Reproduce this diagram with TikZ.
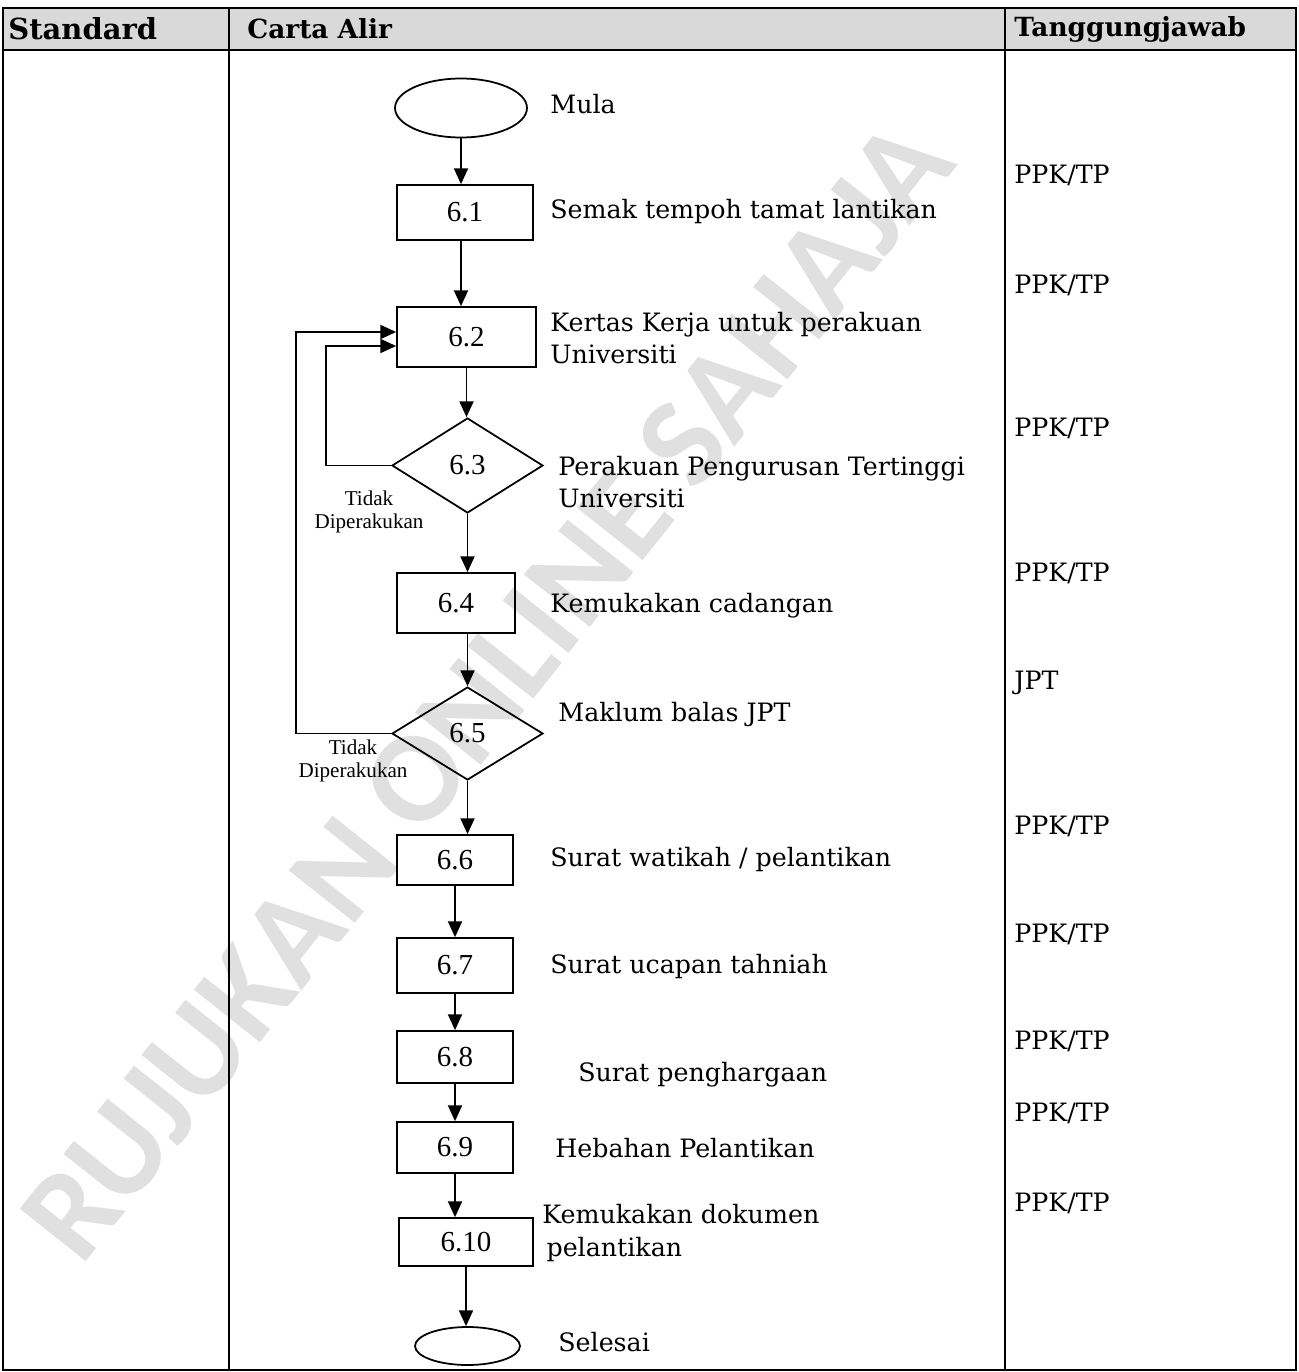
\documentclass[tikz,border=0pt]{standalone}
\usepackage{fontspec}
\setmainfont{DejaVu Serif}
\newfontfamily\numfont{Liberation Serif}
\newfontfamily\markfont{Carlito}
\usetikzlibrary{positioning, arrows.meta, shapes.geometric}

\begin{document}
\begin{tikzpicture}[x=0.02cm, y=-0.02cm, font=\fontsize{14.4}{18.5}\selectfont,
    every node/.style={align=left},
    box/.style={rectangle, draw, line width=1pt, inner sep=0pt, minimum width=2.32cm, font=\numfont\fontsize{16.5}{18}\selectfont},
    dec/.style={diamond, draw, line width=1pt, inner sep=0pt, minimum width=3.02cm, font=\numfont\fontsize{16.5}{18}\selectfont},
    term/.style={ellipse, draw, line width=1pt},
    txt/.style={anchor=west, inner sep=0pt},
    note/.style={align=center, inner sep=0pt, font=\numfont\fontsize{12}{13}\selectfont},
    resp/.style={anchor=west, inner sep=0pt},
    head/.style={anchor=west, inner sep=0pt, font=\bfseries\fontsize{15}{17}\selectfont},
    arrow/.style={-{Triangle[length=9pt, width=8pt]}, line width=1pt},
]
\useasboundingbox (0,0) rectangle (1298,1372);

% watermark
\node[text=black!12, rotate=51.5, font=\markfont\bfseries\fontsize{74}{74}\selectfont] (wm) at (487,690) {RUJUKAN ONLINE SAHAJA};

% table
\fill[black!15] (3,8) rectangle (1296,50);
\draw[line width=1.1pt] (3,8) rectangle (1296,1370);
\draw[line width=1.1pt] (3,50) -- (1296,50);
\draw[line width=1.1pt] (229,8) -- (229,1370);
\draw[line width=1.1pt] (1005,8) -- (1005,1370);

\node[head, font=\bfseries\fontsize{16.5}{17}\selectfont] (h1) at (8,29) {Standard};
\node[head] (h2) at (247,29) {Carta Alir};
\node[head] (h3) at (1014,29) {Tanggungjawab};

% flow
\node[term, minimum width=2.64cm, minimum height=1.18cm] (mula) at (461,108) {};
\node[txt] (tmula) at (550,104) {Mula};

\node[box, minimum width=2.72cm, minimum height=1.1cm] (s61) at (465,212.5) {6.1};
\node[txt] (t61) at (550,212) {Semak tempoh tamat lantikan};

\node[box, minimum width=2.78cm, minimum height=1.2cm] (s62) at (466.5,337) {6.2};
\node[txt] (t62) at (550,338) {Kertas Kerja untuk perakuan\\Universiti};

\node[dec, minimum height=1.9cm] (d63) at (467.5,465.5) {6.3};
\node[txt] (t63) at (558,482) {Perakuan Pengurusan Tertinggi\\Universiti};
\node[note] (n63) at (369,512) {Tidak\\Diperakukan};

\node[box, minimum width=2.36cm, minimum height=1.2cm] (s64) at (456,603) {6.4};
\node[txt] (t64) at (550,606) {Kemukakan cadangan};

\node[dec, minimum height=1.86cm] (d65) at (467.5,733.5) {6.5};
\node[txt] (t65) at (558,715) {Maklum balas JPT};
\node[note] (n65) at (353,761) {Tidak\\Diperakukan};

\node[box, minimum height=1.0cm] (s66) at (455,860) {6.6};
\node[txt] (t66) at (550,860) {Surat watikah / pelantikan};

\node[box, minimum height=1.1cm] (s67) at (455,965.5) {6.7};
\node[txt] (t67) at (550,967) {Surat ucapan tahniah};

\node[box, minimum height=1.04cm] (s68) at (455,1057) {6.8};
\node[txt] (t68) at (578,1075) {Surat penghargaan};

\node[box, minimum height=1.02cm] (s69) at (455,1147.5) {6.9};
\node[txt] (t69) at (555,1148) {Hebahan Pelantikan};

\node[box, minimum width=2.68cm, minimum height=0.96cm] (s610) at (466,1242) {6.10};
\node[txt] (t610) at (542,1233) {Kemukakan dokumen\\\,pelantikan};

\node[term, minimum width=2.1cm, minimum height=0.76cm] (selesai) at (467.5,1346) {};
\node[txt] (tselesai) at (558,1342) {Selesai};

% responsibility
\node[resp] (r1) at (1014,175) {PPK/TP};
\node[resp] (r2) at (1014,285) {PPK/TP};
\node[resp] (r3) at (1014,428) {PPK/TP};
\node[resp] (r4) at (1014,573) {PPK/TP};
\node[resp] (r5) at (1014,683) {JPT};
\node[resp] (r6) at (1014,826) {PPK/TP};
\node[resp] (r7) at (1014,934) {PPK/TP};
\node[resp] (r8) at (1014,1041) {PPK/TP};
\node[resp] (r9) at (1014,1113) {PPK/TP};
\node[resp] (r10) at (1014,1203) {PPK/TP};

% connectors
\draw[arrow] (mula.south) -- (mula.south |- s61.north);
\draw[arrow] (mula.south |- s61.south) -- (mula.south |- s62.north);
\draw[arrow] (s62.south) -- (s62.south |- d63.north);
\draw[arrow] (d63.south) -- (d63.south |- s64.north);
\draw[arrow] (d65.north |- s64.south) -- (d65.north);
\draw[arrow] (d65.south) -- (d65.south |- s66.north);
\draw[arrow] (s66.south) -- (s67.north);
\draw[arrow] (s67.south) -- (s68.north);
\draw[arrow] (s68.south) -- (s69.north);
\draw[arrow] (s69.south) -- (s69.south |- s610.north);
\draw[arrow] (s610.south) -- (s610.south |- selesai.north);

% loops back to 6.2
\draw[arrow] (d63.west) -- ++(-65,0) |- ([yshift=-0.18cm]s62.west);
\draw[arrow] (d65.west) -- ++(-95,0) |- ([yshift=0.1cm]s62.west);

\end{tikzpicture}
\end{document}
